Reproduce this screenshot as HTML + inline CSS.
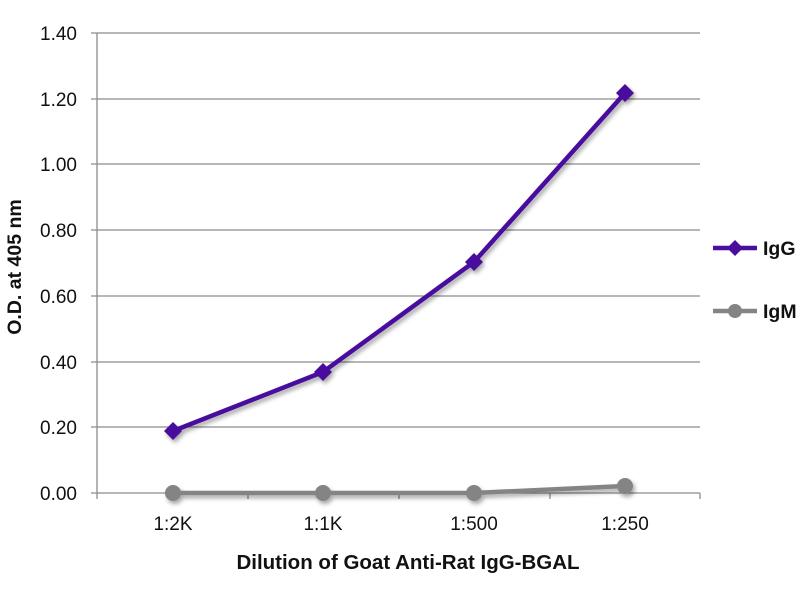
<!DOCTYPE html><html><head><style>body{margin:0;background:#fff}svg{display:block}text{font-family:"Liberation Sans",sans-serif}</style></head><body>
<svg width="800" height="600" xmlns="http://www.w3.org/2000/svg">
<defs><filter id="s" x="-10%" y="-10%" width="120%" height="120%"><feDropShadow dx="2" dy="3" stdDeviation="2" flood-color="#000" flood-opacity="0.35"/></filter></defs>
<g stroke="#8c8c8c" stroke-width="1.3">
<line x1="91" y1="33" x2="700" y2="33"/><line x1="91" y1="99" x2="700" y2="99"/><line x1="91" y1="164" x2="700" y2="164"/><line x1="91" y1="230" x2="700" y2="230"/><line x1="91" y1="296" x2="700" y2="296"/><line x1="91" y1="362" x2="700" y2="362"/><line x1="91" y1="427" x2="700" y2="427"/><line x1="91" y1="493" x2="700" y2="493"/>
<line x1="97" y1="33" x2="97" y2="499"/><line x1="248" y1="493" x2="248" y2="499"/><line x1="399" y1="493" x2="399" y2="499"/><line x1="550" y1="493" x2="550" y2="499"/><line x1="700" y1="493" x2="700" y2="499"/>
</g>
<g font-size="19" fill="#111" text-anchor="end">
<text x="77" y="40">1.40</text><text x="77" y="106">1.20</text><text x="77" y="171">1.00</text><text x="77" y="237">0.80</text><text x="77" y="303">0.60</text><text x="77" y="369">0.40</text><text x="77" y="434">0.20</text><text x="77" y="500">0.00</text></g>
<g font-size="19" fill="#111" text-anchor="middle"><text x="173" y="530">1:2K</text><text x="323" y="530">1:1K</text><text x="474" y="530">1:500</text><text x="625" y="530">1:250</text></g>
<text x="408" y="569" font-size="20.5" font-weight="bold" text-anchor="middle" fill="#111">Dilution of Goat Anti-Rat IgG-BGAL</text>
<text transform="translate(21,267) rotate(-90)" font-size="19.5" font-weight="bold" text-anchor="middle" fill="#111">O.D. at 405 nm</text>
<g filter="url(#s)">
<polyline points="173,493 323,493 474,493 625,486" fill="none" stroke="#848484" stroke-width="4.5"/>
<g fill="#848484"><circle cx="173" cy="493" r="8"/><circle cx="323" cy="493" r="8"/><circle cx="474" cy="493" r="8"/><circle cx="625" cy="486" r="8"/></g>
<polyline points="173,431 323,372 474,262 625,93" fill="none" stroke="#4a0d9e" stroke-width="4.5"/>
<g fill="#4a0d9e"><path d="M173 422l9 9-9 9-9-9z"/><path d="M323 363l9 9-9 9-9-9z"/><path d="M474 253l9 9-9 9-9-9z"/><path d="M625 84l9 9-9 9-9-9z"/></g>
</g>
<line x1="713" y1="248" x2="757" y2="248" stroke="#4a0d9e" stroke-width="4.5"/><path d="M735 240l8 8-8 8-8-8z" fill="#4a0d9e"/>
<line x1="713" y1="311" x2="757" y2="311" stroke="#848484" stroke-width="4.5"/><circle cx="735" cy="311" r="7" fill="#848484"/>
<text x="763" y="255" font-size="19.5" font-weight="bold" fill="#111">IgG</text>
<text x="763" y="318" font-size="19.5" font-weight="bold" fill="#111">IgM</text>
</svg></body></html>
